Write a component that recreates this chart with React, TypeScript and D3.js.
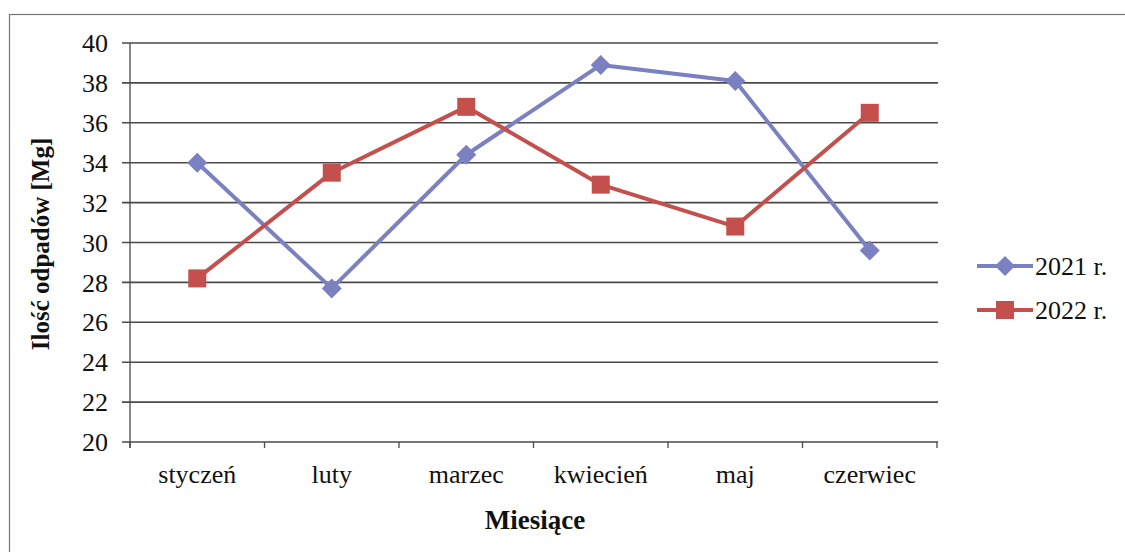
import React from "react";
import * as d3 from "d3";

const categories = ["styczeń", "luty", "marzec", "kwiecień", "maj", "czerwiec"];
const series2021 = [34.0, 27.7, 34.4, 38.9, 38.1, 29.6];
const series2022 = [28.2, 33.5, 36.8, 32.9, 30.8, 36.5];
const yTicks = [20, 22, 24, 26, 28, 30, 32, 34, 36, 38, 40];
const seriesNames = ["2021 r.", "2022 r."];
const colors = ["#7b80c0", "#c4504e"];

export default function App() {
  const W = 1125, H = 552;
  const left = 130, right = 937, top = 43, bottom = 442;
  const x = d3.scaleBand<string>().domain(categories).range([left, right]);
  const y = d3.scaleLinear().domain([20, 40]).range([bottom, top]);
  const line = d3.line<number>()
    .x((_, i) => (x(categories[i]) as number) + x.bandwidth() / 2)
    .y((d) => y(d));
  const font = "'Liberation Serif', 'Times New Roman', serif";
  const grid = "#4a4a4a";
  const all = [series2021, series2022];
  const boundaries = d3.range(categories.length + 1).map((i) => left + i * x.bandwidth());

  const diamond = (cx: number, cy: number, s: number) =>
    `M${cx},${cy - s} L${cx + s},${cy} L${cx},${cy + s} L${cx - s},${cy} Z`;

  return (
    <svg width={W} height={H} style={{ position: "absolute", left: 0, top: 0 }} fontFamily={font}>
      <rect x={0} y={0} width={W} height={H} fill="#fff" />
      <rect x={9.5} y={14.5} width={W + 10} height={H + 10} fill="none" stroke="#777" strokeWidth={1.2} />
      {yTicks.map((t) => (
        <g key={t}>
          <line x1={122} x2={right + 1} y1={y(t)} y2={y(t)} stroke={grid} strokeWidth={1.6} />
          <text x={108} y={y(t)} dy="0.35em" textAnchor="end" fontSize={26} fill="#111">{t}</text>
        </g>
      ))}
      <line x1={left} x2={left} y1={top} y2={bottom + 6} stroke={grid} strokeWidth={1.3} />
      {boundaries.map((b, i) => (
        <line key={i} x1={b} x2={b} y1={bottom} y2={bottom + 6} stroke={grid} strokeWidth={1.3} />
      ))}
      {categories.map((c) => (
        <text key={c} x={(x(c) as number) + x.bandwidth() / 2} y={483} textAnchor="middle" fontSize={26} fill="#111">{c}</text>
      ))}
      <text x={535} y={529} textAnchor="middle" fontSize={27} fontWeight="bold" fill="#111">Miesiące</text>
      <text transform={`translate(49,244) rotate(-90)`} textAnchor="middle" fontSize={25} fontWeight="bold" fill="#111">Ilość odpadów [Mg]</text>
      {all.map((s, si) => (
        <path key={si} d={line(s) as string} fill="none" stroke={colors[si]} strokeWidth={4} strokeLinejoin="round" />
      ))}
      {series2021.map((v, i) => {
        const cx = (x(categories[i]) as number) + x.bandwidth() / 2;
        return <path key={i} d={diamond(cx, y(v), 10)} fill={colors[0]} />;
      })}
      {series2022.map((v, i) => {
        const cx = (x(categories[i]) as number) + x.bandwidth() / 2;
        return <rect key={i} x={cx - 9} y={y(v) - 9} width={18} height={18} fill={colors[1]} />;
      })}
      {seriesNames.map((n, i) => {
        const ly = 266 + i * 44;
        return (
          <g key={n}>
            <line x1={977} x2={1033} y1={ly} y2={ly} stroke={colors[i]} strokeWidth={4} />
            {i === 0 ? (
              <path d={diamond(1005, ly, 10)} fill={colors[0]} />
            ) : (
              <rect x={996} y={ly - 9} width={18} height={18} fill={colors[1]} />
            )}
            <text x={1035} y={ly} dy="0.35em" fontSize={26} fill="#111">{n}</text>
          </g>
        );
      })}
    </svg>
  );
}
